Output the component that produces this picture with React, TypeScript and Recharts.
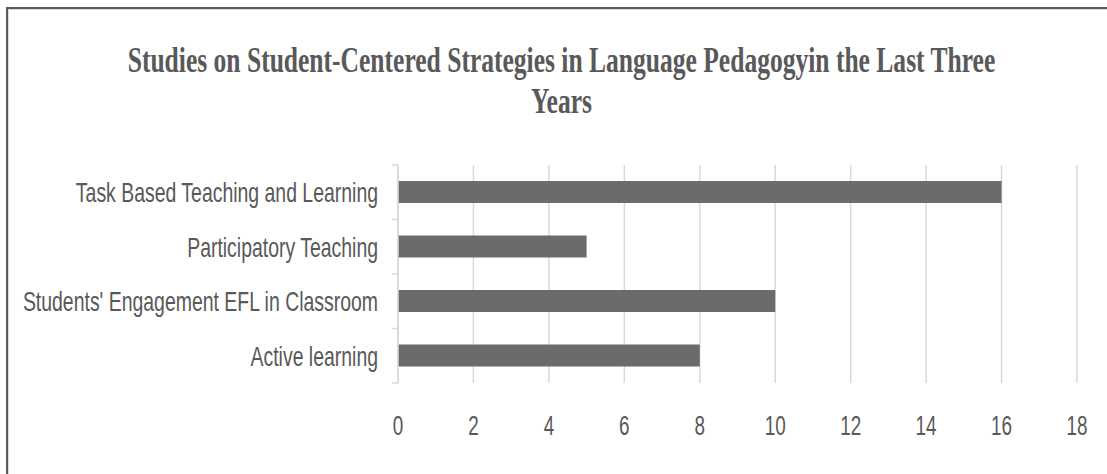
import React from 'react';
import { BarChart, Bar, XAxis, YAxis, CartesianGrid } from 'recharts';

const categories = [
  'Task Based Teaching and Learning',
  'Participatory Teaching',
  "Students' Engagement EFL in Classroom",
  'Active learning',
];
const studies = [16, 5, 10, 8];
const xTicks = [0, 2, 4, 6, 8, 10, 12, 14, 16, 18];
const titleLines = [
  'Studies on Student-Centered Strategies in Language Pedagogyin the Last Three',
  'Years',
];

const data = categories.map((c, i) => ({ category: c, studies: studies[i] }));

const TEXT = '#595959';
const GRID = '#d9d9d9';
const SANS = '"Liberation Sans", Arial, sans-serif';

const YTick = (props: any) => {
  const { x, y, payload, index, visibleTicksCount } = props;
  const half = payload && payload.offset ? payload.offset : 27;
  const last = index === (visibleTicksCount ?? 4) - 1;
  return (
    <g>
      <line x1={x - 6} x2={x} y1={y - half} y2={y - half} stroke={GRID} strokeWidth={1.5} />
      {last && <line x1={x - 6} x2={x} y1={y + half} y2={y + half} stroke={GRID} strokeWidth={1.5} />}
      <text
        transform={`translate(${x - 20}, ${y + 10}) scale(0.72, 1)`}
        textAnchor="end"
        fontFamily={SANS}
        fontSize={27}
        fill={TEXT}
      >
        {payload.value}
      </text>
    </g>
  );
};

const XTick = (props: any) => {
  const { x, y, payload } = props;
  return (
    <text
      transform={`translate(${x}, ${y + 52}) scale(0.7, 1)`}
      textAnchor="middle"
      fontFamily={SANS}
      fontSize={27}
      fill={TEXT}
    >
      {payload.value}
    </text>
  );
};

export default function App() {
  return (
    <div style={{ position: 'fixed', left: 0, top: 0, width: 1107, height: 474, background: '#fff', overflow: 'hidden' }}>
      <div style={{ position: 'absolute', left: 6, top: 7, right: -10, bottom: -10, borderTop: '2px solid #5a5a5a', borderLeft: '2px solid #5a5a5a' }} />
      <div style={{ position: 'absolute', left: 8, top: 9, right: -10, bottom: -10, borderTop: '1px solid #dcdcdc', borderLeft: '1px solid #dcdcdc' }} />
      <svg width={1107} height={140} style={{ position: 'absolute', left: 0, top: 0 }}>
        {titleLines.map((t, i) => (
          <text
            key={i}
            transform={`translate(561.5, ${72 + i * 41}) scale(0.73, 1)`}
            textAnchor="middle"
            fontFamily='"Liberation Serif", "Times New Roman", serif'
            fontWeight="bold"
            fontSize={35}
            fill={TEXT}
          >
            {t}
          </text>
        ))}
      </svg>
      <div style={{ position: 'absolute', left: 0, top: 0 }}>
        <BarChart
          width={1107}
          height={474}
          data={data}
          layout="vertical"
          margin={{ top: 165, right: 30, bottom: 51, left: 0 }}
          barCategoryGap="30%"
        >
          <CartesianGrid horizontal={false} stroke={GRID} strokeWidth={1.5} />
          <XAxis
            type="number"
            domain={[0, 18]}
            ticks={xTicks}
            interval={0}
            axisLine={false}
            tickLine={false}
            tickSize={0}
            tickMargin={0}
            height={40}
            tick={<XTick />}
          />
          <YAxis
            type="category"
            dataKey="category"
            width={398}
            interval={0}
            axisLine={{ stroke: GRID, strokeWidth: 1.5 }}
            tickLine={false}
            tickSize={0}
            tickMargin={0}
            tick={<YTick />}
          />
          <Bar dataKey="studies" fill="#6b6b6b" barSize={22} isAnimationActive={false} />
        </BarChart>
      </div>
    </div>
  );
}
